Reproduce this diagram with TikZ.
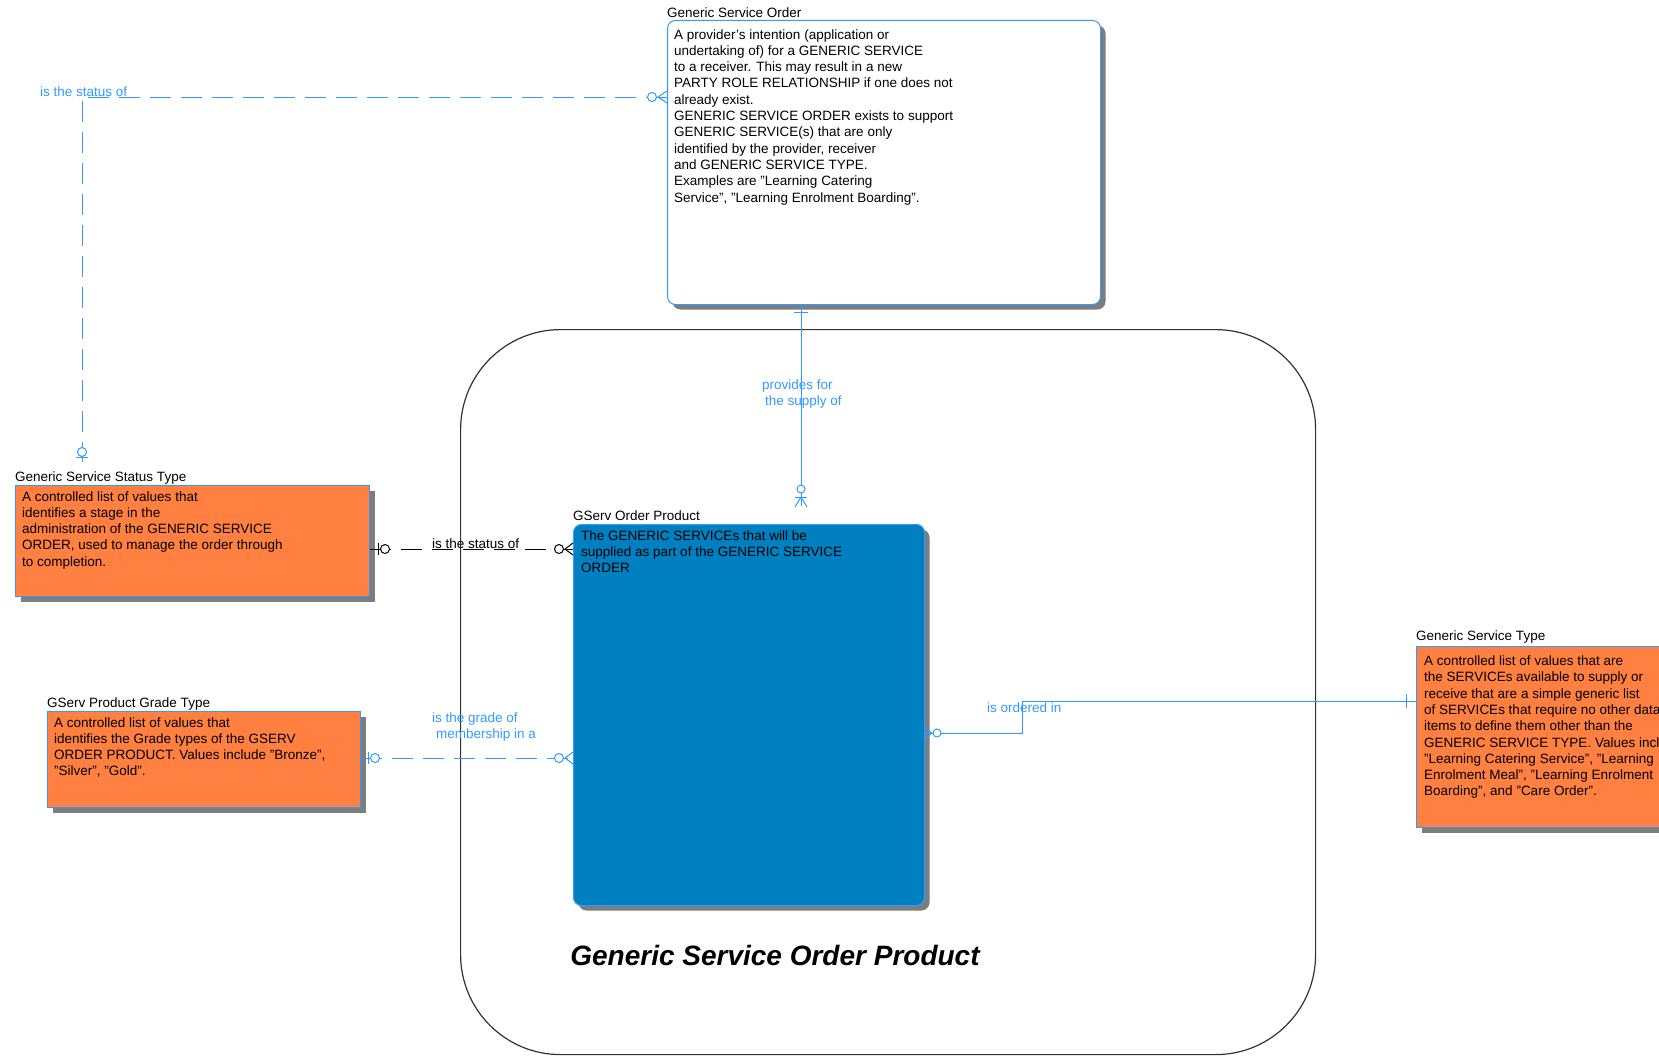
\documentclass[tikz,border=0pt]{standalone}
\usepackage{fontspec}
\setmainfont{Liberation Sans}
\usetikzlibrary{shadows,calc}
\definecolor{ltblue}{RGB}{51,153,255}
\definecolor{erorange}{RGB}{255,128,64}
\definecolor{erblue}{RGB}{0,128,192}
\definecolor{shadowgray}{RGB}{125,125,125}
\newcommand\erfont{\fontsize{13.5}{16.3}\selectfont}
\begin{document}
\begin{tikzpicture}[x=1pt,y=-1pt,
  ebox/.style={draw=ltblue, line width=1pt, anchor=north west, inner sep=0pt,
    general shadow={fill=shadowgray, shadow xshift=5pt, shadow yshift=-5pt}},
  etitle/.style={anchor=base west, inner sep=0pt, font=\erfont, text=black},
  etext/.style={anchor=base west, inner sep=0pt, font=\erfont, align=left, text=black},
  rlabel/.style={anchor=base west, inner sep=0pt, font=\erfont, text=ltblue, align=left},
  rel/.style={draw=ltblue, line width=1pt},
  reldash/.style={rel, dash pattern=on 21pt off 10pt},
  blkdash/.style={draw=black, line width=1pt, dash pattern=on 21pt off 10pt},
  endcirc/.style={fill=white, line width=1pt}
]
\useasboundingbox (0,0) rectangle (1659,1057);

% subject area
\node[draw=black!80, line width=1.2pt, rounded corners=100pt, anchor=north west,
      minimum width=855pt, minimum height=725pt, inner sep=0pt] (area) at (460,329) {};
\node[font=\fontsize{28}{30}\selectfont\bfseries\itshape, inner sep=0pt] (areatitle) at (775,955) {Generic Service Order Product};

% entity boxes
\node[ebox, fill=white, rounded corners=8pt, minimum width=433pt, minimum height=284pt] (gso) at (667,20) {};
\node[ebox, fill=erorange, minimum width=354pt, minimum height=111pt] (stat) at (15,485) {};
\node[ebox, fill=erblue, rounded corners=8pt, minimum width=351pt, minimum height=381pt] (gsop) at (573,524) {};
\node[ebox, fill=erorange, minimum width=313pt, minimum height=96pt] (grade) at (47,711) {};
\node[ebox, fill=erorange, minimum width=300pt, minimum height=181pt] (gst) at (1416,646) {};

% titles
\node[etitle] (gsot) at (667,17.5) {Generic Service Order};
\node[etitle] (statt) at (15,481) {Generic Service Status Type};
\node[etitle] (gsopt) at (573,520) {GServ Order Product};
\node[etitle] (gradet) at (47,707) {GServ Product Grade Type};
\node[etitle] (gstt) at (1416,640.5) {Generic Service Type};

% texts (anchored at the baseline of their last line)
\node[etext] (gsox) at (674,202) {A provider's intention (application or\\undertaking of) for a GENERIC SERVICE\\to a receiver. This may result in a new\\PARTY ROLE RELATIONSHIP if one does not\\already exist.\\GENERIC SERVICE ORDER exists to support\\GENERIC SERVICE(s) that are only\\identified by the provider, receiver\\and GENERIC SERVICE TYPE.\\Examples are "Learning Catering\\Service", "Learning Enrolment Boarding".};
\node[etext] (statx) at (22,566.2) {A controlled list of values that\\identifies a stage in the\\administration of the GENERIC SERVICE\\ORDER, used to manage the order through\\to completion.};
\node[etext] (gsopx) at (581,572.6) {The GENERIC SERVICEs that will be\\supplied as part of the GENERIC SERVICE\\ORDER};
\node[etext] (gradex) at (54,775.9) {A controlled list of values that\\identifies the Grade types of the GSERV\\ORDER PRODUCT. Values include "Bronze",\\"Silver", "Gold".};
\node[etext] (gstx) at (1424,795.9) {A controlled list of values that are\\the SERVICEs available to supply or\\receive that are a simple generic list\\of SERVICEs that require no other data\\items to define them other than the\\GENERIC SERVICE TYPE. Values incl\\"Learning Catering Service", "Learning\\Enrolment Meal", "Learning Enrolment\\Boarding", and "Care Order".};

% connector: status type -> service order
\coordinate (s1a) at ($(gso.north west)+(0,77)$);
\coordinate (s1b) at (82,97);
\coordinate (s1c) at ($(stat.north west)+(67,-23)$);
\draw[reldash] (s1a) -- (s1b) -- (s1c);
\draw[rel] (658,97) -- (667,91) (658,97) -- (667,103);
\draw[rel, endcirc] (652,97) circle[radius=4.5];
\draw[rel, endcirc] (82,452) circle[radius=4.5];
\draw[rel] (76,457) -- (88,457);
\node[rlabel] (l1) at (40,96.5) {is the status of};

% connector: status type -> order product
\coordinate (s2a) at ($(stat.north east)+(0,64)$);
\coordinate (s2b) at ($(gsop.north west)+(0,25)$);
\draw[blkdash] (s2a) -- (s2b);
\draw[black, line width=1pt] (378,543) -- (378,555);
\draw[black, endcirc] (385,549) circle[radius=4.5];
\draw[black, line width=1pt] (565,549) -- (573,543) (565,549) -- (573,555);
\draw[black, endcirc] (559,549) circle[radius=4.5];
\node[rlabel, text=black] (l2) at (432,548.5) {is the status of};

% connector: grade type -> order product
\coordinate (s3a) at ($(grade.north east)+(0,47)$);
\coordinate (s3b) at ($(gsop.north west)+(0,234)$);
\draw[reldash] (s3a) -- (s3b);
\draw[rel] (368,752) -- (368,764);
\draw[rel, endcirc] (375,758) circle[radius=4.5];
\draw[rel] (565,758) -- (573,752) (565,758) -- (573,764);
\draw[rel, endcirc] (559,758) circle[radius=4.5];
\node[rlabel] (l3) at (432,738.3) {is the grade of\\\hspace*{4pt}membership in a};

% connector: service order -> order product
\coordinate (s4a) at ($(gso.south west)+(134,0)$);
\coordinate (s4b) at ($(gsop.north west)+(228,-18)$);
\draw[rel] (s4a) -- (s4b);
\draw[rel] (794,312) -- (808,312);
\draw[rel, endcirc] (801,489) circle[radius=4];
\draw[rel] (795,497) -- (807,497);
\draw[rel] (801,497) -- (795,507) (801,497) -- (807,507);
\node[rlabel] (l4) at (762,405.3) {provides for\\\hspace*{3pt}the supply of};

% connector: order product -> service type
\coordinate (s5a) at ($(gsop.north east)+(0,209)$);
\coordinate (s5b) at (1022,733);
\coordinate (s5c) at (1022,701);
\coordinate (s5d) at ($(gst.north west)+(0,55)$);
\draw[rel] (s5a) -- (s5b) -- (s5c) -- (s5d);
\draw[rel] (932,733) -- (924,727) (932,733) -- (924,739);
\draw[rel, endcirc] (937,733) circle[radius=4];
\draw[rel] (1406,694) -- (1406,708);
\node[rlabel] (l5) at (987,712) {is ordered in};
\end{tikzpicture}
\end{document}
